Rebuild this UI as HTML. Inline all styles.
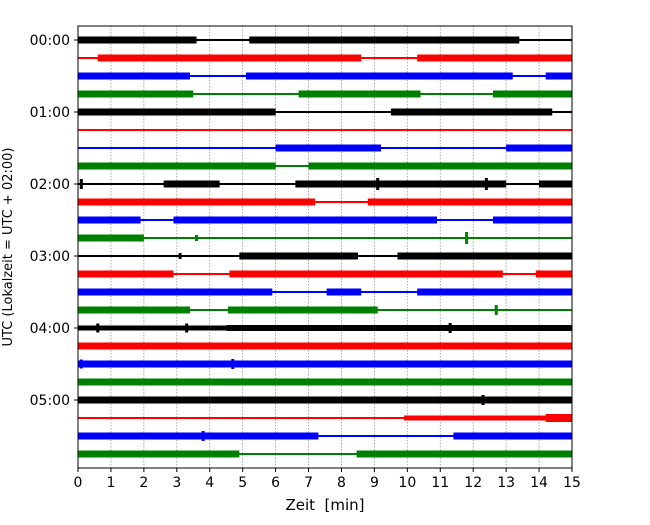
<!DOCTYPE html>
<html><head><meta charset="utf-8"><style>
body{margin:0;background:#fff}
svg text{font-family:"DejaVu Sans","Liberation Sans",sans-serif;white-space:pre}
</style></head><body>
<svg id="c" width="650" height="520" xmlns="http://www.w3.org/2000/svg"></svg>
<script>
const xTicks=[0,1,2,3,4,5,6,7,8,9,10,11,12,13,14,15];
const yTickLabels=["00:00","01:00","02:00","03:00","04:00","05:00"];
const rowColors=["black","red","blue","green"];
// loud segments per row: [startMin, endMin, amplitude]
const row00=[[0,3.6,3.5],[5.2,13.4,3.5]];
const row01=[[0.6,8.6,3.5],[10.3,15,3.5]];
const row02=[[0,3.4,3.5],[5.1,13.2,3.5],[14.2,15,3.5]];
const row03=[[0,3.5,3.5],[6.7,10.4,3.5],[12.6,15,3.5]];
const row04=[[0,6,3.5],[9.5,14.4,3.5]];
const row05=[];
const row06=[[6,9.2,3.5],[13,15,3.5]];
const row07=[[0,6,3.5],[7,15,3.5]];
const row08=[[2.6,4.3,3.5],[6.6,13,3.5],[14,15,3.5]];
const row09=[[0,7.2,3.5],[8.8,15,3.5]];
const row10=[[0,1.9,3.5],[2.9,10.9,3.5],[12.6,15,3.5]];
const row11=[[0,2,3.5]];
const row12=[[4.9,8.5,3.5],[9.7,15,3.5]];
const row13=[[0,2.9,3.5],[4.6,12.9,3.5],[13.9,15,3.5]];
const row14=[[0,5.9,3.5],[7.55,8.6,3.5],[10.3,15,3.5]];
const row15=[[0,3.4,3.5],[4.55,9.1,3.5]];
const row16=[[0,4.5,2.5],[4.5,15,3]];
const row17=[[0,15,3.5]];
const row18=[[0,15,3.5]];
const row19=[[0,15,3.5]];
const row20=[[0,15,3.5]];
const row21=[[9.9,14.2,2.5],[14.2,15,4]];
const row22=[[0,7.3,3.5],[11.4,15,3.5]];
const row23=[[0,4.9,3.5],[8.46,15,3.5]];
const rows=[row00,row01,row02,row03,row04,row05,row06,row07,row08,row09,row10,row11,row12,row13,row14,row15,row16,row17,row18,row19,row20,row21,row22,row23];
// spikes: [row, minute, amplitude]
const spikes=[[8,0.1,5],[8,9.1,6],[8,12.4,6],[11,3.6,3],[11,11.8,6],[12,3.1,3],[15,12.7,5],[16,0.6,4.5],[16,3.3,4.5],[16,11.3,5],[18,4.7,5],[18,0.1,4.5],[20,12.3,5],[22,3.8,5]];
const X0=78,X1=572,Y0=26,Y1=468;
const xs=m=>X0+(X1-X0)*m/15;
const ys=r=>40+18*r;
const NS="http://www.w3.org/2000/svg";
const svg=document.getElementById('c');
function mk(t,a){const e=document.createElementNS(NS,t);for(const k in a)e.setAttribute(k,a[k]);svg.appendChild(e);return e;}
xTicks.forEach(t=>{
  const g=mk('line',{x1:xs(t),x2:xs(t),y1:Y0,y2:Y1,stroke:'#999','stroke-width':0.8,'stroke-dasharray':'1.5,1.5'});
  
  
});
rows.forEach((segs,r)=>{
  const col=rowColors[r%4];
  const base=mk('rect',{x:X0,y:ys(r)-1,width:X1-X0,height:2,fill:col});
  
  
  segs.forEach(s=>{
    const e=mk('rect',{x:xs(s[0]),y:ys(r)-s[2],width:xs(s[1])-xs(s[0]),height:2*s[2],fill:col});
    
    
  });
});
spikes.forEach(s=>{
  const col=rowColors[s[0]%4];
  const e=mk('rect',{x:xs(s[1])-1.5,y:ys(s[0])-s[2],width:3,height:2*s[2],fill:col});
  
  
});
const f=mk('rect',{x:X0,y:Y0,width:X1-X0,height:Y1-Y0,fill:'none',stroke:'#000','stroke-width':1});


xTicks.forEach(t=>{
  const l=mk('line',{x1:xs(t),x2:xs(t),y1:Y1,y2:Y1+4,stroke:'#000'});
  
  
  const tx=mk('text',{x:xs(t),y:Y1+19,'text-anchor':'middle','font-size':14});
  tx.textContent=t;
  
  
});
yTickLabels.forEach((lab,i)=>{
  const y=ys(i*4);
  const l=mk('line',{x1:X0-4,x2:X0,y1:y,y2:y,stroke:'#000'});
  
  
  const tx=mk('text',{x:X0-8,y:y+5,'text-anchor':'end','font-size':14});
  tx.textContent=lab;
  
  
});
const xl=mk('text',{x:325,y:510,'text-anchor':'middle','font-size':15});
xl.textContent='Zeit  [min]';


const yl=mk('text',{x:0,y:0,'text-anchor':'middle','font-size':13,transform:'translate(12,247) rotate(-90)'});
yl.textContent='UTC (Lokalzeit = UTC + 02:00)';


</script>
</body></html>
